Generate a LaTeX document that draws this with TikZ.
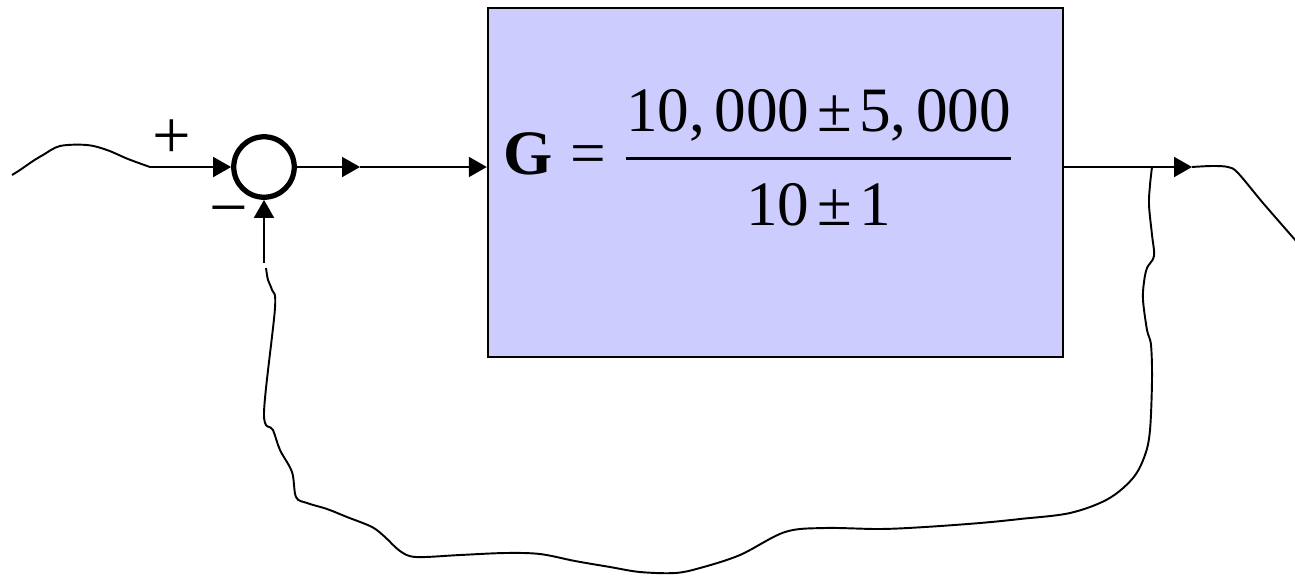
\RequirePackage{fix-cm}
\documentclass[tikz,border=0pt]{standalone}
\usepackage{fontspec}
\setmainfont{Liberation Serif}
\usepackage{amsmath}
\usetikzlibrary{arrows.meta,positioning}
\definecolor{boxblue}{RGB}{204,204,255}
\tikzset{
  sumnode/.style={circle, draw, line width=3pt, minimum size=1.21cm, inner sep=0pt},
  plantbox/.style={draw, fill=boxblue, line width=1.4pt, minimum width=11.5cm, minimum height=6.98cm, inner sep=0pt},
  signlabel/.style={inner sep=0pt, font=\fontsize{39}{44}\selectfont},
  hand/.style={line width=1.1pt, smooth, tension=0.55},
}
\begin{document}
\begin{tikzpicture}[x=0.02cm, y=-0.02cm, line width=1.1pt, >={Triangle[length=0.36cm,width=0.4cm]}]
\useasboundingbox (0,0) rectangle (1295,579);

\node[plantbox] (plant) at (775.5,182.5) {};
\node[sumnode] (sum) at (264,167) {};
\node[anchor=base west, inner sep=0pt] (gain) at (503,174) {\fontsize{36}{42}\selectfont
  $\mbox{\textbf{G}}\mathrel{\mbox{=}}\genfrac{}{}{1.8pt}{0}{\mbox{10,\hspace{0.15em}000\hspace{0.12em}±\hspace{0.12em}5,\hspace{0.15em}000}}{\mbox{\raisebox{-0.13em}{10\hspace{0.12em}±\hspace{0.12em}1}}}$};
\node[signlabel] (plus) at (172,139) {+};
\node[signlabel] (minus) at (229,218) {−};

\coordinate (inA) at (150,167);
\coordinate (midA) at (360,167);
\coordinate (outA) at (1192,167);
\coordinate (tap) at (1152,167);
\coordinate (fbA) at (264,263);
\coordinate (fbB) at (266,268);

% forward path
\draw[->] (inA) -- (sum);
\draw[->] (sum) -- (midA);
\draw[->] (midA) -- (midA -| plant.west);
\draw[->] (plant.east |- outA) -- (outA);
\draw[->] (fbA) -- (sum);

% hand drawn lines
\draw[hand] plot coordinates {(12,175) (20,170) (33,161) (43,155) (60,146) (87,145) (107,150) (128,159) (inA)};
\draw[hand] plot coordinates {(outA) (1212,166) (1228,167) (1238,173) (1263,203) (1297,242)};
\draw[hand] plot coordinates {(tap) (1150,185) (1149,205) (1152,235) (1154,256) (1147,268) (1144,282)
  (1143,300) (1147,330) (1151,345) (1152,380) (1150,430) (1145,455) (1133,478) (1108,499) (1070,513)
  (1020,519) (980,523) (925,527) (880,529) (825,528) (785,532) (740,555) (700,568) (675,573) (640,572)
  (610,567) (575,561) (540,554) (505,553) (460,555) (416,557) (400,551) (385,537) (372,527) (347,517)
  (327,509) (307,503) (296,497) (292,472) (280,450) (273,430) (264,413) (275,308) (272,290) (268,280) (fbB)};
\end{tikzpicture}
\end{document}
